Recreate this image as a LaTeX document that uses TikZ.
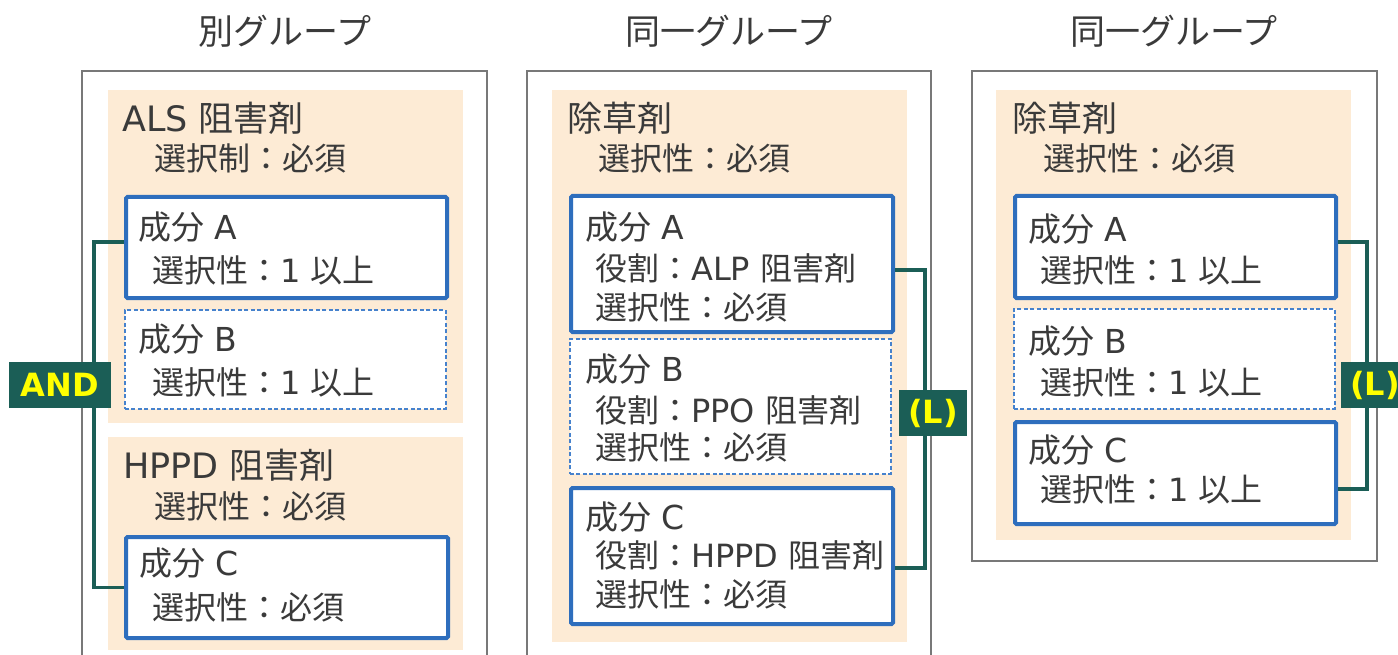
\documentclass[tikz,border=0pt]{standalone}
\usepackage{fontspec}
\setmainfont{Noto Sans CJK JP}
\newfontfamily\lat{DejaVu Sans}
\definecolor{txt}{RGB}{58,58,58}
\definecolor{peach}{RGB}{253,235,213}
\definecolor{bluec}{RGB}{46,110,189}
\definecolor{blued}{RGB}{70,130,205}
\definecolor{greenc}{RGB}{27,94,86}
\definecolor{outergray}{RGB}{120,120,120}
\definecolor{tagyellow}{RGB}{255,255,0}
\tikzset{
  outerbox/.style={draw=outergray, line width=1.3pt, fill=white},
  panelbox/.style={fill=peach, draw=none},
  comp/.style={draw=bluec, line width=4pt, fill=white, rounded corners=1.5pt, inner sep=0pt, anchor=north west},
  compd/.style={draw=blued, line width=1.5pt, dash pattern=on 4pt off 2.5pt, fill=white, inner sep=0pt, anchor=north west},
  headtxt/.style={font=\fontsize{35}{40}\selectfont, text=txt, inner sep=0pt},
  ttltxt/.style={font=\fontsize{35}{40}\selectfont, text=txt, anchor=west, inner sep=0pt},
  nametxt/.style={font=\fontsize{33}{38}\selectfont, text=txt, anchor=west, inner sep=0pt},
  subtxt/.style={font=\fontsize{32}{38}\selectfont, text=txt, anchor=west, inner sep=0pt},
  conn/.style={draw=greenc, line width=3.5pt},
  tagbox/.style={fill=greenc, text=tagyellow, font=\lat\bfseries\fontsize{32}{38}\selectfont, minimum height=46pt, inner sep=0pt},
}
\begin{document}
\begin{tikzpicture}[x=1pt, y=-1pt]
\useasboundingbox (0,0) rectangle (1398,655);
\clip (0,0) rectangle (1398,655);
% headers
\node[headtxt] (h1) at (285,31) {別グループ};
\node[headtxt] (h2) at (729,31) {同一グループ};
\node[headtxt] (h3) at (1174,31) {同一グループ};
% outer boxes
\draw[outerbox] (82,71) rectangle (487,700);
\draw[outerbox] (527,71) rectangle (931,700);
\draw[outerbox] (972,71) rectangle (1377,561);
% panels
\fill[panelbox] (108,90) rectangle (463,423);
\fill[panelbox] (108,437) rectangle (463,650);
\fill[panelbox] (552,90) rectangle (907,642);
\fill[panelbox] (996,90) rectangle (1351,540);
% component boxes
\node[comp, minimum width=321pt, minimum height=101pt] (LA) at (124,195) {};
\node[compd, minimum width=321pt, minimum height=99pt] (LB) at (124,309) {};
\node[comp, minimum width=322pt, minimum height=101pt] (LC) at (124,535) {};
\node[comp, minimum width=322pt, minimum height=136pt] (MA) at (569,194) {};
\node[compd, minimum width=321pt, minimum height=135pt] (MB) at (569,338) {};
\node[comp, minimum width=322pt, minimum height=136pt] (MC) at (569,486) {};
\node[comp, minimum width=321pt, minimum height=102pt] (RA) at (1013,194) {};
\node[compd, minimum width=321pt, minimum height=100pt] (RB) at (1013,308) {};
\node[comp, minimum width=321pt, minimum height=102pt] (RC) at (1013,420) {};
% connectors
\draw[conn] ([yshift=5.5pt]LA.west) -- ++(-30,0) |- (LC.west);
\draw[conn] ([yshift=-6pt]MA.east) -- ++(30,0) |- ([yshift=-12pt]MC.east);
\draw[conn] ([yshift=5pt]RA.east) -- ++(29,0) |- ([yshift=-16pt]RC.east);
% tags
\node[tagbox, minimum width=102pt] (tand) at (60,385) {AND};
\node[tagbox, minimum width=68pt] (tl1) at (933,413) {(L)};
\node[tagbox, minimum width=68pt] (tl2) at (1375,385) {(L)};
% left panel texts
\node[ttltxt] (t1) at (122,118) {{\lat ALS }阻害剤};
\node[subtxt] (s1) at (154,158) {選択制：必須};
\node[nametxt] (la1) at (138,227) {成分{\lat\ A}};
\node[subtxt] (la2) at (152,270) {選択性：{\lat 1 }以上};
\node[nametxt] (lb1) at (138,339) {成分{\lat\ B}};
\node[subtxt] (lb2) at (152,382) {選択性：{\lat 1 }以上};
\node[ttltxt] (t2) at (123,465) {{\lat HPPD }阻害剤};
\node[subtxt] (s2) at (154,506) {選択性：必須};
\node[nametxt] (lc1) at (139,563) {成分{\lat\ C}};
\node[subtxt] (lc2) at (152,607) {選択性：必須};
% middle panel texts
\node[ttltxt] (t3) at (567,118) {除草剤};
\node[subtxt] (s3) at (598,158) {選択性：必須};
\node[nametxt] (ma1) at (585,227) {成分{\lat\ A}};
\node[subtxt] (ma2) at (595,268) {役割：{\lat ALP }阻害剤};
\node[subtxt] (ma3) at (595,307) {選択性：必須};
\node[nametxt] (mb1) at (585,369) {成分{\lat\ B}};
\node[subtxt] (mb2) at (595,410) {役割：{\lat PPO }阻害剤};
\node[subtxt] (mb3) at (595,447) {選択性：必須};
\node[nametxt] (mc1) at (585,517) {成分{\lat\ C}};
\node[subtxt] (mc2) at (595,555) {役割：{\lat HPPD }阻害剤};
\node[subtxt] (mc3) at (595,594) {選択性：必須};
% right panel texts
\node[ttltxt] (t4) at (1012,118) {除草剤};
\node[subtxt] (s4) at (1043,158) {選択性：必須};
\node[nametxt] (ra1) at (1028,229) {成分{\lat\ A}};
\node[subtxt] (ra2) at (1040,270) {選択性：{\lat 1 }以上};
\node[nametxt] (rb1) at (1028,341) {成分{\lat\ B}};
\node[subtxt] (rb2) at (1040,382) {選択性：{\lat 1 }以上};
\node[nametxt] (rc1) at (1028,450) {成分{\lat\ C}};
\node[subtxt] (rc2) at (1040,489) {選択性：{\lat 1 }以上};
\end{tikzpicture}
\end{document}
